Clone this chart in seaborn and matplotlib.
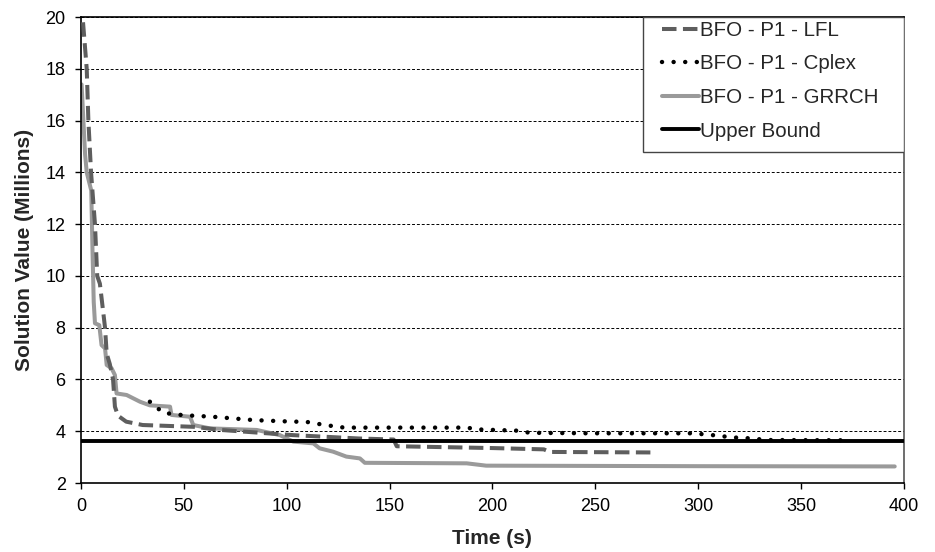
import matplotlib
matplotlib.use("Agg")
import matplotlib.pyplot as plt
from matplotlib.patches import Rectangle
import seaborn as sns
import pandas as pd

# ---- data (time in s, value in millions) ----
lfl_t = [1, 2.8, 3.6, 4.9, 6.8, 7.9, 9.2, 11.7, 12.5, 14, 15.6, 16.5, 18, 22, 30,
         55, 68, 87, 103, 135, 152, 153.5, 200, 225, 228, 278]
lfl_v = [19.8, 18.0, 16.0, 14.0, 12.0, 10.0, 9.7, 8.0, 7.0, 6.6, 6.0, 4.95, 4.6,
         4.37, 4.24, 4.17, 4.05, 3.94, 3.85, 3.72, 3.68, 3.42, 3.35, 3.3, 3.2, 3.18]

cplex_t = [33.5, 40, 49.7, 64, 84, 103, 109, 118.6, 128, 187.5, 193, 213, 218,
           247, 297.6, 307, 317, 326.6, 333, 373]
cplex_v = [5.14, 4.71, 4.62, 4.56, 4.43, 4.37, 4.37, 4.24, 4.14, 4.14, 4.07, 4.02,
           3.94, 3.92, 3.92, 3.85, 3.76, 3.72, 3.66, 3.65]

grrch_t = [0.3, 2, 2.8, 5.0, 5.6, 6.2, 6.8, 8.9, 10, 11.7, 12.5, 14.9, 16.5, 17.3,
           22.2, 28.7, 33.5, 43.3, 44, 53, 54.6, 62.7, 85.4, 96.7, 103.2, 113, 116,
           122.6, 129, 135.6, 138, 187.5, 197, 300, 395.6]
grrch_v = [17.4, 14.7, 14.0, 13.3, 11.0, 9.0, 8.17, 8.1, 7.33, 7.2, 6.56, 6.43,
           6.17, 5.46, 5.4, 5.14, 5.0, 4.95, 4.63, 4.56, 4.24, 4.11, 4.05, 3.85,
           3.6, 3.53, 3.34, 3.21, 3.02, 2.95, 2.78, 2.76, 2.67, 2.65, 2.64]

upper_bound = 3.63

x_ticks = [0, 50, 100, 150, 200, 250, 300, 350, 400]
y_ticks = [2, 4, 6, 8, 10, 12, 14, 16, 18, 20]

# ---- plot ----
sns.set_style("white")
plt.rcParams['font.family'] = ['Liberation Sans', 'DejaVu Sans']

fig = plt.figure(figsize=(9.35, 5.52), dpi=100)
ax = fig.add_axes([0.0866, 0.125, 0.880, 0.844])

for yv in y_ticks[1:]:
    ax.axhline(yv, color="black", lw=0.7, ls=(0, (3, 2)), zorder=0)

DASH = (0, (3.6, 1.6))
DOT = (0, (0.01, 2.6))

sns.lineplot(x=lfl_t, y=lfl_v, ax=ax, color="#5e5e5e", lw=2.9,
             label="BFO - P1 - LFL", zorder=3)
ax.lines[-1].set_linestyle(DASH)

sns.lineplot(x=cplex_t, y=cplex_v, ax=ax, color="black", lw=3.2,
             label="BFO - P1 - Cplex", zorder=3)
ax.lines[-1].set_linestyle(DOT)
ax.lines[-1].set_dash_capstyle("round")

sns.lineplot(x=grrch_t, y=grrch_v, ax=ax, color="#9a9a9a", lw=2.9,
             label="BFO - P1 - GRRCH", zorder=2)

ub = pd.DataFrame({"t": [x_ticks[0], x_ticks[-1]], "v": [upper_bound, upper_bound]})
sns.lineplot(data=ub, x="t", y="v", ax=ax, color="black", lw=2.8,
             label="Upper Bound", zorder=4)

ax.set_xlim(0, 400)
ax.set_ylim(2, 20)
ax.set_xticks(x_ticks)
ax.set_yticks(y_ticks)
ax.tick_params(direction="out", length=4, width=1, labelsize=13, colors="black",
               bottom=True, left=True, pad=7)
for s in ax.spines.values():
    s.set_color("black")
    s.set_linewidth(1.2)
ax.spines["right"].set_color("#555555")

ax.set_xlabel("Time (s)", fontsize=15, fontweight="bold", labelpad=10)
ax.set_ylabel("Solution Value (Millions)", fontsize=15, fontweight="bold", labelpad=8)

# legend box drawn separately so the padding matches the original
ax.add_patch(Rectangle((0.683, 0.710), 0.317, 0.290, transform=ax.transAxes,
                       facecolor="white", edgecolor="#444444", lw=1.0, zorder=5))
leg = ax.legend(loc="upper left", bbox_to_anchor=(0.706, 0.992), borderaxespad=0,
                fontsize=14.8, frameon=False, handlelength=1.8,
                handletextpad=0.05, borderpad=0, labelspacing=0.71)
leg.set_zorder(6)
leg_lines = leg.get_lines()
leg_lines[0].set_linestyle(DASH)
leg_lines[1].set_linestyle(DOT)
leg_lines[1].set_dash_capstyle("round")

fig.savefig("out.png", dpi=100)
